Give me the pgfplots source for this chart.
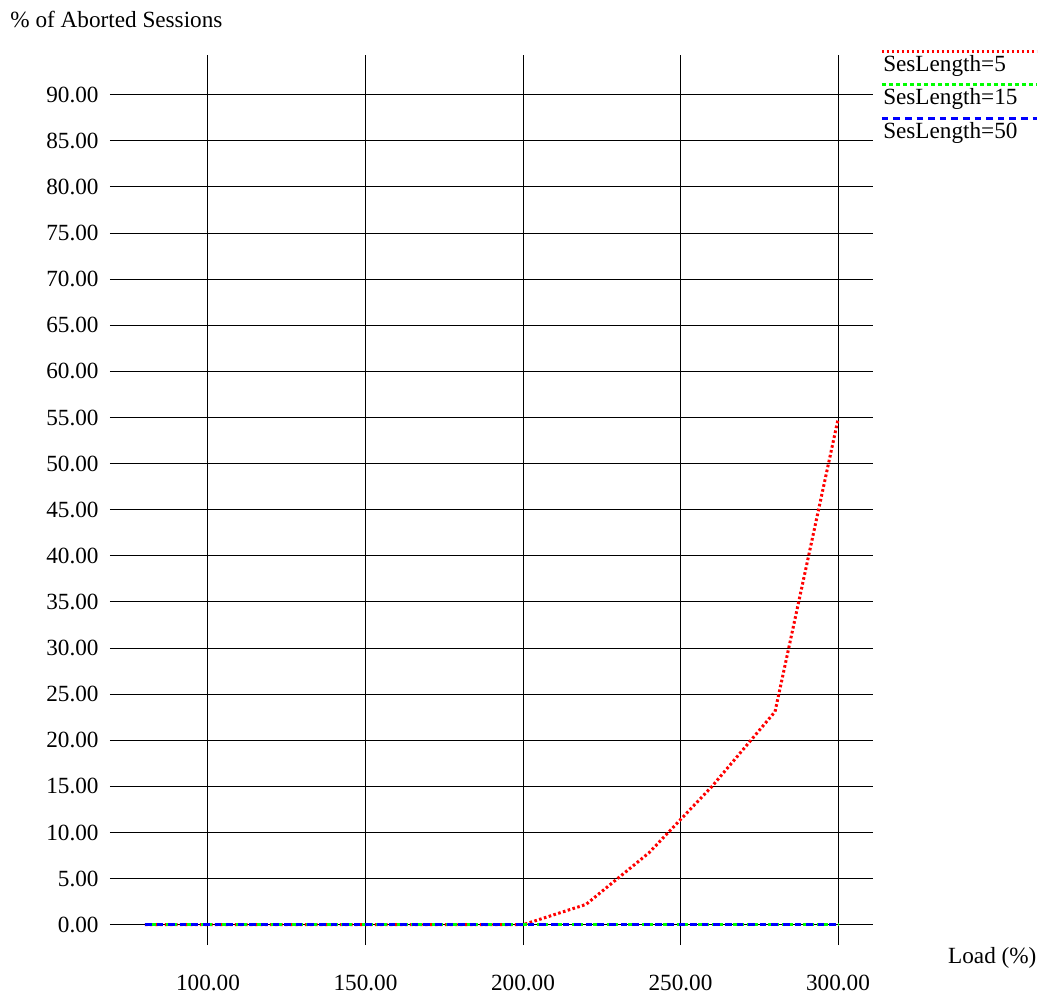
\documentclass[border=0pt]{standalone}
\usepackage{fontspec}
\setmainfont{Liberation Serif}
\usepackage{pgfplots}
\pgfplotsset{compat=1.18}
\begin{document}
\begin{tikzpicture}[font=\fontsize{11.6pt}{13pt}\selectfont]
\useasboundingbox (-55pt,-26pt) rectangle (467.5pt,472.5pt);
\begin{axis}[
  at={(0,0)}, anchor=south west,
  scale only axis, width=381.5pt, height=445pt,
  xmin=68.9, xmax=311.1, ymin=-2.2, ymax=94.3,
  clip=false,
  axis line style={draw=none},
  tick style={draw=none},
  grid=major, grid style={black, line width=0.5pt},
  xtick={100,150,200,250,300},
  ytick={0,5,10,15,20,25,30,35,40,45,50,55,60,65,70,75,80,85,90},
  yticklabel style={anchor=east, inner sep=0pt, xshift=-5.5pt},
  xticklabel style={anchor=north, inner sep=0pt, yshift=-15pt},
  /pgf/number format/fixed,
  /pgf/number format/fixed zerofill,
  /pgf/number format/precision=2,
  /pgf/number format/assume math mode=true,
  xlabel={Load (\%)},
  ylabel={\% of Aborted Sessions},
  every axis y label/.style={at={(axis description cs:-0.131,1.0399)}, anchor=west, inner sep=0pt},
  every axis x label/.style={at={(axis description cs:1.098,-0.0146)}, anchor=west, inner sep=0pt},
  legend style={at={(axis description cs:1.0095,1)}, anchor=north west, draw=none, fill=none,
    inner sep=0pt, outer sep=0pt, row sep=6.25pt, column sep=0pt,
    nodes={inner sep=0pt, text height=8pt, text depth=2.5pt}},
  legend cell align=left,
  legend image code/.code={\path (0pt,0pt); \draw[#1, overlay] (0pt,7.25pt) -- (77.5pt,7.25pt);},
]
\addplot[red, line width=1.5pt, dash pattern=on 1.3pt off 1.2pt] coordinates {
  (80,0) (100,0) (120,0) (140,0) (160,0) (180,0) (200,0)
  (220,2.2) (240,7.8) (260,15.0) (280,23.1) (300,54.8)};
\addlegendentry{SesLength=5}
\addplot[green, line width=1.5pt, dash pattern=on 2pt off 1.5pt] coordinates {
  (80,0) (100,0) (120,0) (140,0) (160,0) (180,0) (200,0)
  (220,0) (240,0) (260,0) (280,0) (300,0)};
\addlegendentry{SesLength=15}
\addplot[blue, line width=1.5pt, dash pattern=on 3.3pt off 2.5pt] coordinates {
  (80,0) (100,0) (120,0) (140,0) (160,0) (180,0) (200,0)
  (220,0) (240,0) (260,0) (280,0) (300,0)};
\addlegendentry{SesLength=50}
\end{axis}
\end{tikzpicture}
\end{document}
